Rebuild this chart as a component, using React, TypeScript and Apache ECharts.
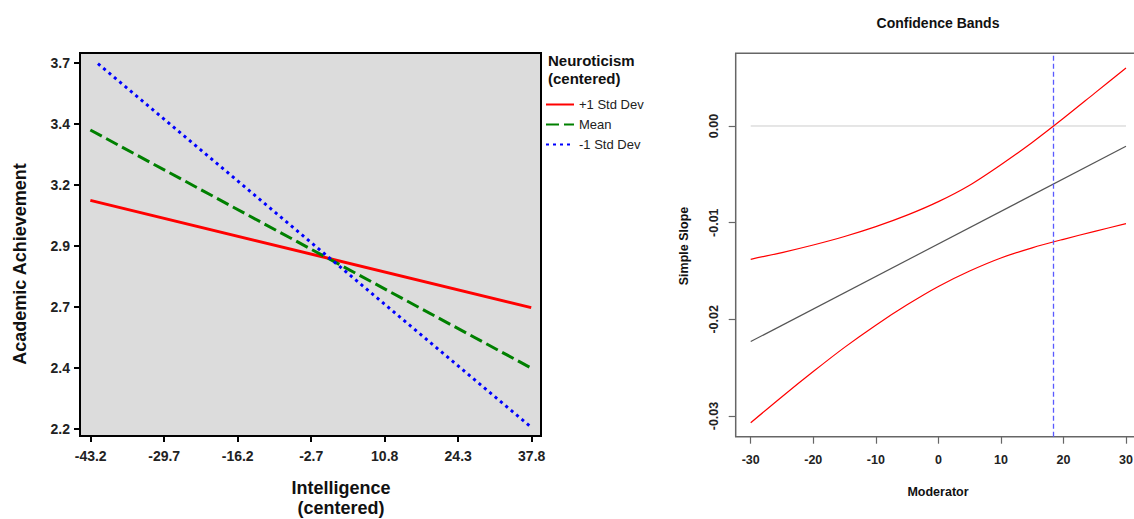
import React, { useEffect, useRef } from "react";
import * as echarts from "echarts";

// ---------- Left chart: interaction plot ----------
const intelligenceTicks = ["-43.2", "-29.7", "-16.2", "-2.7", "10.8", "24.3", "37.8"];
const achievementTicks = ["2.2", "2.4", "2.7", "2.9", "3.2", "3.4", "3.7"];
const groupNames = ["+1 Std Dev", "Mean", "-1 Std Dev"];
const plusSdX = [-43.2, 37.8];
const plusSdY = [3.136, 2.696];
const meanX = [-43.2, 37.8];
const meanY = [3.425, 2.448];
const minusSdX = [-41.8, 37.8];
const minusSdY = [3.697, 2.205];

// ---------- Right chart: confidence bands ----------
const moderatorValues = [-30, -25, -20, -15, -10, -5, 0, 5, 10, 15, 20, 25, 30];
const upperBand = [-0.01379, -0.01309, -0.01231, -0.01143, -0.01041, -0.00922, -0.00782, -0.00612, -0.004, -0.0017, 0.0008, 0.0034, 0.006];
const lowerBand = [-0.0307, -0.028, -0.0254, -0.0229, -0.0206, -0.0185, -0.0166, -0.015, -0.01365, -0.0126, -0.01172, -0.0109, -0.0101];
const slopeX = [-30, 30];
const slopeY = [-0.0223, -0.0021];
const zeroLineX = [-30, 30];
const zeroLineY = [0, 0];
const jnPoint = 18.4;
const moderatorTicks = [-30, -20, -10, 0, 10, 20, 30];
const slopeTicks = [-0.03, -0.02, -0.01, 0];

const FONT = "'Liberation Sans', Arial, Helvetica, sans-serif";

const zip = (xs: number[], ys: number[]) => xs.map((x, i) => [x, ys[i]]);

export default function App() {
  const ref = useRef<HTMLDivElement>(null);

  useEffect(() => {
    if (!ref.current) return;
    const chart = echarts.init(ref.current, undefined, { renderer: "svg" });

    const option: any = {
      animation: false,
      backgroundColor: "#ffffff",
      textStyle: { fontFamily: FONT },
      grid: [
        { left: 80, top: 53, width: 461, height: 383, show: true, backgroundColor: "#dcdcdc", borderColor: "#000000", borderWidth: 2, z: 0, outerBoundsMode: "none", containLabel: false },
        { left: 90.7, top: 62.7, width: 441, height: 366.3, outerBoundsMode: "none", containLabel: false },
        { left: 735.7, top: 53.3, width: 405.3, height: 383.4, show: true, backgroundColor: "transparent", borderColor: "#666666", borderWidth: 1.5, outerBoundsMode: "none", containLabel: false },
        { left: 750.7, top: 126, width: 375.3, height: 290, outerBoundsMode: "none", containLabel: false },
      ],
      xAxis: [
        { gridIndex: 0, type: "value", min: -45.1, max: 39.6, show: false },
        {
          gridIndex: 1,
          type: "category",
          data: intelligenceTicks,
          boundaryGap: false,
          offset: 7,
          axisLine: { show: false, onZero: false },
          axisTick: { show: true, length: 6, lineStyle: { color: "#000", width: 2 } },
          axisLabel: { fontSize: 14, fontWeight: "bold", color: "#222", margin: 13, fontFamily: FONT },
          splitLine: { show: false },
        },
        { gridIndex: 2, type: "value", min: -32.4, max: 32.4, show: false },
        {
          gridIndex: 3,
          type: "value",
          min: moderatorTicks[0],
          max: moderatorTicks[moderatorTicks.length - 1],
          interval: 10,
          offset: 20.7,
          axisLine: { show: false, onZero: false },
          axisTick: { show: true, length: 7, lineStyle: { color: "#666", width: 1.2 } },
          axisLabel: { fontSize: 12.5, fontWeight: "bold", color: "#222", margin: 17, fontFamily: FONT },
          splitLine: { show: false },
        },
      ],
      yAxis: [
        { gridIndex: 0, type: "value", min: 2.169, max: 3.741, show: false },
        {
          gridIndex: 1,
          type: "category",
          data: achievementTicks,
          boundaryGap: false,
          offset: 10.7,
          axisLine: { show: false, onZero: false },
          axisTick: { show: true, length: 6, lineStyle: { color: "#000", width: 2 } },
          axisLabel: { fontSize: 14, fontWeight: "bold", color: "#222", margin: 10, fontFamily: FONT },
          splitLine: { show: false },
        },
        { gridIndex: 2, type: "value", min: -0.03214, max: 0.00752, show: false },
        {
          gridIndex: 3,
          type: "value",
          min: slopeTicks[0],
          max: slopeTicks[slopeTicks.length - 1],
          interval: 0.01,
          offset: 15,
          axisLine: { show: false, onZero: false },
          axisTick: { show: true, length: 7, lineStyle: { color: "#666", width: 1.2 } },
          axisLabel: {
            fontSize: 12.5,
            fontWeight: "bold",
            color: "#222",
            rotate: 90,
            margin: 15,
            fontFamily: FONT,
            formatter: (v: number) => v.toFixed(2),
          },
          splitLine: { show: false },
        },
      ],
      legend: {
        data: groupNames,
        orient: "vertical",
        left: 545,
        top: 98,
        padding: 0,
        itemWidth: 28,
        itemHeight: 14,
        itemGap: 7,
        itemStyle: { opacity: 0, borderWidth: 0 },
        textStyle: { fontSize: 13, color: "#222", fontFamily: FONT },
      },
      series: [
        {
          name: groupNames[0],
          type: "line",
          xAxisIndex: 0,
          yAxisIndex: 0,
          data: zip(plusSdX, plusSdY),
          symbol: "none",
          color: "#ff0000",
          lineStyle: { color: "#ff0000", width: 3 },
        },
        {
          name: groupNames[1],
          type: "line",
          xAxisIndex: 0,
          yAxisIndex: 0,
          data: zip(meanX, meanY),
          symbol: "none",
          color: "#008000",
          lineStyle: { color: "#008000", width: 3, type: [13, 5] },
        },
        {
          name: groupNames[2],
          type: "line",
          xAxisIndex: 0,
          yAxisIndex: 0,
          data: zip(minusSdX, minusSdY),
          symbol: "none",
          color: "#0000ff",
          lineStyle: { color: "#0000ff", width: 3, type: [3, 4] },
        },
        {
          name: "zero",
          type: "line",
          xAxisIndex: 2,
          yAxisIndex: 2,
          data: zip(zeroLineX, zeroLineY),
          symbol: "none",
          lineStyle: { color: "#cccccc", width: 1 },
          silent: true,
        },
        {
          name: "Johnson-Neyman",
          type: "line",
          xAxisIndex: 2,
          yAxisIndex: 2,
          data: [],
          color: "#5a5aff",
          z: 5,
          markLine: {
            silent: true,
            symbol: "none",
            label: { show: false },
            itemStyle: { color: "#5a5aff" },
            lineStyle: { color: "#5a5aff", type: [5, 3], width: 1.3, opacity: 1 },
            emphasis: { disabled: true },
            data: [{ xAxis: jnPoint }],
          },
        },
        {
          name: "Simple Slope",
          type: "line",
          xAxisIndex: 2,
          yAxisIndex: 2,
          data: zip(slopeX, slopeY),
          symbol: "none",
          lineStyle: { color: "#555555", width: 1.2 },
        },
        {
          name: "Upper",
          type: "line",
          xAxisIndex: 2,
          yAxisIndex: 2,
          data: zip(moderatorValues, upperBand),
          smooth: 0.3,
          symbol: "none",
          lineStyle: { color: "#ff0000", width: 1.2 },
        },
        {
          name: "Lower",
          type: "line",
          xAxisIndex: 2,
          yAxisIndex: 2,
          data: zip(moderatorValues, lowerBand),
          smooth: 0.3,
          symbol: "none",
          lineStyle: { color: "#ff0000", width: 1.2 },
        },
      ],
      graphic: [
        { type: "text", left: 548, top: 53, style: { text: "Neuroticism", font: `bold 15px ${FONT}`, fill: "#111" } },
        { type: "text", left: 548, top: 71, style: { text: "(centered)", font: `bold 15px ${FONT}`, fill: "#111" } },
        {
          type: "text",
          x: 20,
          y: 264,
          rotation: Math.PI / 2,
          style: { text: "Academic Achievement", font: `bold 18px ${FONT}`, fill: "#111", align: "center", verticalAlign: "middle" },
        },
        {
          type: "text",
          x: 341,
          y: 488,
          style: { text: "Intelligence", font: `bold 18px ${FONT}`, fill: "#111", align: "center", verticalAlign: "middle" },
        },
        {
          type: "text",
          x: 341,
          y: 508,
          style: { text: "(centered)", font: `bold 18px ${FONT}`, fill: "#111", align: "center", verticalAlign: "middle" },
        },
        {
          type: "text",
          x: 938,
          y: 22.7,
          style: { text: "Confidence Bands", font: `bold 14px ${FONT}`, fill: "#111", align: "center", verticalAlign: "middle" },
        },
        {
          type: "text",
          x: 938,
          y: 492,
          style: { text: "Moderator", font: `bold 12.5px ${FONT}`, fill: "#111", align: "center", verticalAlign: "middle" },
        },
        {
          type: "text",
          x: 684,
          y: 246,
          rotation: Math.PI / 2,
          style: { text: "Simple Slope", font: `bold 12.5px ${FONT}`, fill: "#111", align: "center", verticalAlign: "middle" },
        },
      ],
    };

    chart.setOption(option);
    return () => chart.dispose();
  }, []);

  return (
    <div
      ref={ref}
      style={{ position: "fixed", left: 0, top: 0, width: 1134, height: 519, background: "#fff" }}
    />
  );
}
